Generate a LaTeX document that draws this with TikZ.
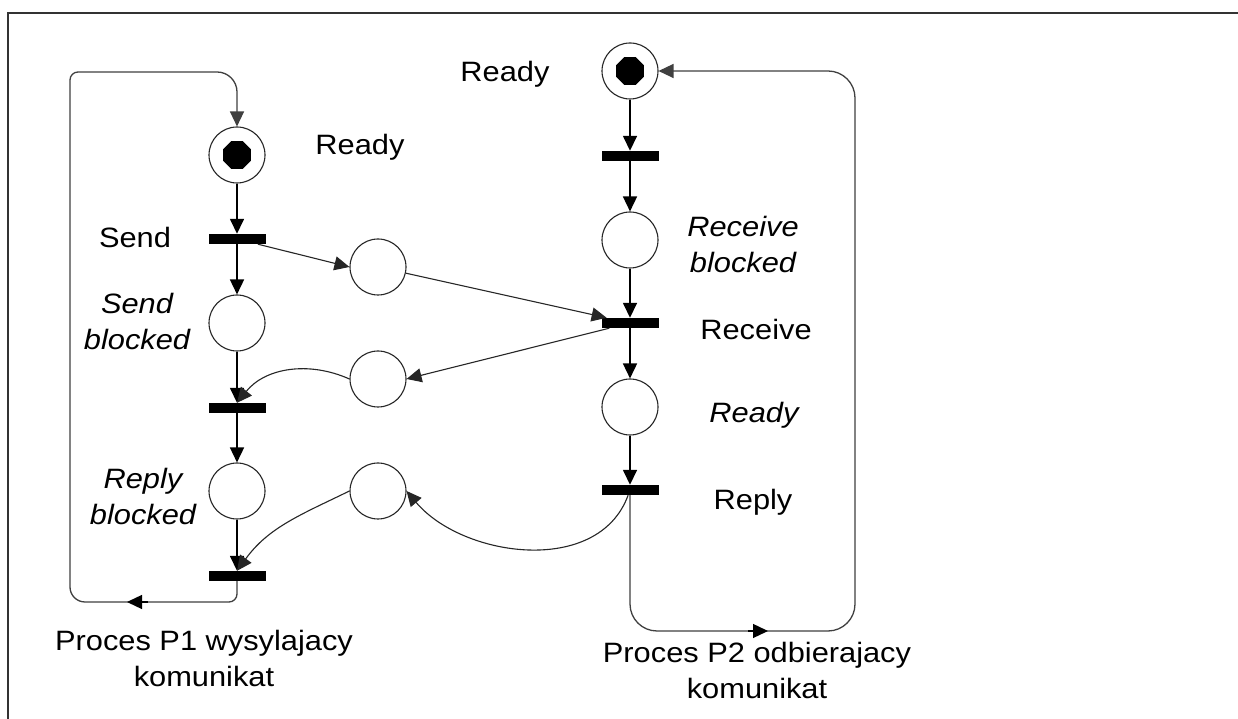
\documentclass[tikz,border=0pt]{standalone}
\usepackage{fontspec}
\setmainfont[FakeStretch=1.1]{Liberation Sans}
\usetikzlibrary{arrows.meta,shapes.geometric,calc}

\begin{document}
\begin{tikzpicture}[x=1pt,y=1pt,
  txt/.style={font=\fontsize{28}{36}\selectfont},
  itxt/.style={font=\fontsize{28}{36}\selectfont\itshape},
  place/.style={circle,draw=black!85,line width=1.1pt,minimum size=56pt,inner sep=0pt,fill=white},
  token/.style={regular polygon,regular polygon sides=8,fill=black,minimum size=30pt,inner sep=0pt},
  bar/.style={rectangle,fill=black,minimum width=57pt,minimum height=10pt,inner sep=0pt},
  headed/.style={-{Triangle[length=15pt,width=14pt]}},
  flow/.style={headed,line width=1.6pt},
  link/.style={headed,line width=1.1pt,draw=black!85},
  ret/.style={line width=1.3pt,draw=black!75},
  lbl/.style={txt,anchor=base,inner sep=0pt},
  ilbl/.style={itxt,anchor=base,inner sep=0pt},
  twoline/.style={align=center,inner sep=0pt},
]
% page and frame
\fill[white] (0,0) rectangle (1238,719);
\useasboundingbox (0,0) rectangle (1238,719);
\draw[line width=2pt,black!80] (7.5,0) -- (7.5,706) -- (1238,706);

% process P1 (sender)
\node[place] (pr1) at (237,564) {};
\node[token] (tk1) at (pr1.center) {};
\node[bar]   (t1)  at (237,480) {};
\node[place] (sb)  at (237,396) {};
\node[bar]   (t2)  at (237,311) {};
\node[place] (rb)  at (237,228) {};
\node[bar]   (t3)  at (237,143) {};

% message places between the processes
\node[place] (m1) at (378,452) {};
\node[place] (m2) at (378,340) {};
\node[place] (m3) at (378,228) {};

% process P2 (receiver)
\node[place] (pr2) at (630,648) {};
\node[token] (tk2) at (pr2.center) {};
\node[bar]   (u1)  at (630,563) {};
\node[place] (rcb) at (630,479) {};
\node[bar]   (u2)  at (630,396) {};
\node[place] (rd)  at (630,312) {};
\node[bar]   (u3)  at (630,229) {};

% labels
\node[lbl]  (lr1) at (360,564) {Ready};
\node[lbl]  (lr2) at (505,637) {Ready};
\node[lbl]  (ls)  at (135,471) {Send};
\node[twoline,itxt] (lsb) at (137,397) {Send\\blocked};
\node[twoline,itxt] (lrb) at (143,222) {Reply\\blocked};
\node[twoline,itxt] (lrcb) at (743,474) {Receive\\blocked};
\node[lbl]  (lrc) at (756,379) {Receive};
\node[ilbl] (lrd) at (754,296) {Ready};
\node[lbl]  (lrp) at (753,209) {Reply};
\node[twoline,txt] (cp1) at (204,61) {Proces P1 wysylajacy\\komunikat};
\node[twoline,txt] (cp2) at (757,49) {Proces P2 odbierajacy\\komunikat};

% P1 flow
\draw[flow] (pr1) -- (t1);
\draw[flow] (t1) -- (sb);
\draw[flow] (sb) -- (t2);
\draw[flow] (t2) -- (rb);
\draw[flow] (rb) -- (t3);

% P2 flow
\draw[flow] (pr2) -- (u1);
\draw[flow] (u1) -- (rcb);
\draw[flow] (rcb) -- (u2);
\draw[flow] (u2) -- (rd);
\draw[flow] (rd) -- (u3);

% messages
\draw[link] (t1) -- (m1.west);
\draw[link] (m1) -- (u2);
\draw[link] (u2) -- (m2.east);
\draw[link] (m2.west) to[out=156,in=51] (t2.north);
\draw[link] (u3) to[out=-110,in=-50] (m3.east);
\draw[link] (m3.west) to[out=206,in=54] (t3.north);

% P1 return loop, corners of different radii
\draw[ret,headed] (t3.south) -- (237,125) arc[start angle=0,end angle=-90,radius=8]
  -- (85,117) arc[start angle=-90,end angle=-180,radius=15]
  -- (70,639) arc[start angle=180,end angle=90,radius=8]
  -- (217,647) arc[start angle=90,end angle=0,radius=20]
  -- (pr1.north);
\coordinate (a5) at (148,117);
\coordinate (a6) at (127,117);
\draw[headed,line width=1.3pt] (a5) -- (a6);

% P2 return loop
\coordinate (b1) at (630,88);
\coordinate (b2) at (855,88);
\coordinate (b3) at (855,648);
\draw[ret,headed,rounded corners=27pt] (u3.south) -- (b1) -- (b2) -- (b3) -- (pr2.east);
\coordinate (b4) at (748,88);
\coordinate (b5) at (768,88);
\draw[headed,line width=1.3pt] (b4) -- (b5);
\end{tikzpicture}
\end{document}
